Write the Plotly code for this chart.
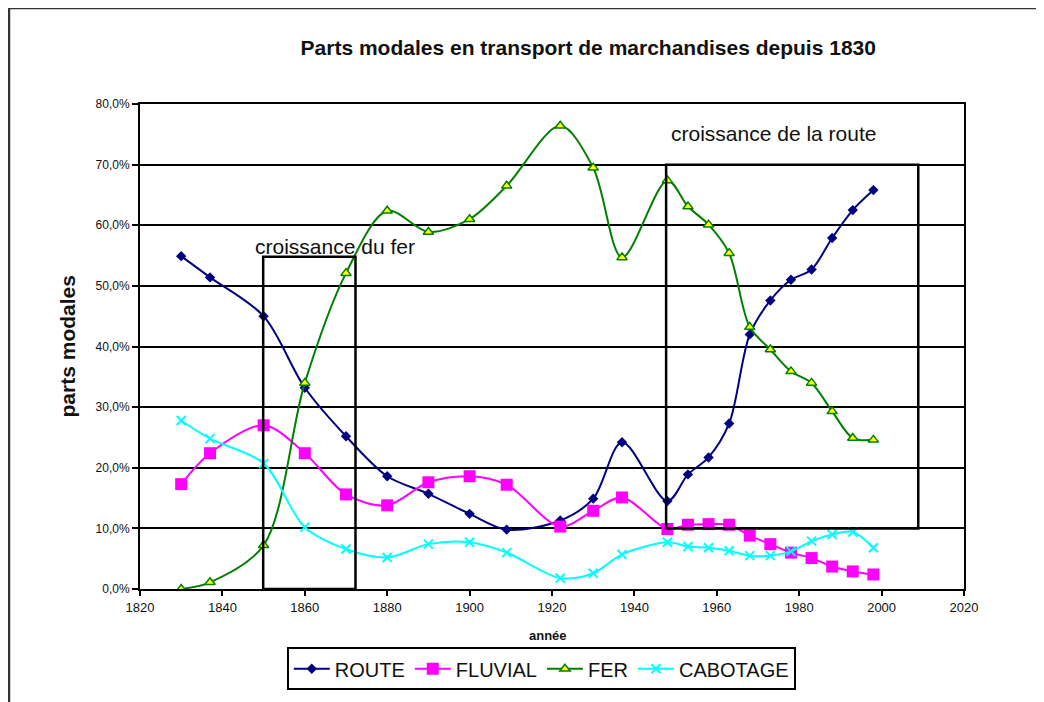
import plotly.graph_objects as go

years = [1830, 1837, 1850, 1860, 1870, 1880, 1890, 1900, 1909, 1922, 1930, 1937,
         1948, 1953, 1958, 1963, 1968, 1973, 1978, 1983, 1988, 1993, 1998]

route = [54.9, 51.4, 45.0, 33.2, 25.2, 18.6, 15.7, 12.4, 9.8, 11.3, 14.9, 24.2,
         14.5, 18.9, 21.7, 27.3, 42.0, 47.6, 51.0, 52.7, 57.9, 62.5, 65.8]
fluvial = [17.3, 22.4, 27.0, 22.4, 15.6, 13.8, 17.6, 18.6, 17.2, 10.3, 12.9, 15.1,
           9.9, 10.6, 10.7, 10.6, 8.8, 7.4, 6.0, 5.1, 3.7, 2.9, 2.4]
fer = [0.0, 1.1, 7.2, 34.0, 52.1, 62.4, 58.9, 61.0, 66.5, 76.4, 69.5, 54.7,
       67.4, 63.1, 60.1, 55.4, 43.2, 39.5, 35.9, 34.0, 29.3, 24.9, 24.6]
cabotage = [27.8, 24.8, 20.7, 10.2, 6.6, 5.2, 7.4, 7.7, 6.0, 1.8, 2.6, 5.7,
            7.7, 7.0, 6.8, 6.3, 5.5, 5.5, 6.2, 7.9, 9.0, 9.4, 6.8]

y_tickvals = [0, 10, 20, 30, 40, 50, 60, 70, 80]
y_ticktext = ["0,0%", "10,0%", "20,0%", "30,0%", "40,0%", "50,0%", "60,0%", "70,0%", "80,0%"]
x_tickvals = [1820, 1840, 1860, 1880, 1900, 1920, 1940, 1960, 1980, 2000, 2020]

title = "Parts modales en transport de marchandises depuis 1830"
ylab = "parts modales"
xlab = "année"

# period boxes: (x0, x1, y0, y1, label)
box_fer = (1849.9, 1872.3, 0, 54.8, "croissance du fer")
box_route = (1947.7, 2008.9, 10, 70, "croissance de la route")

FONT = "Liberation Sans, Arial, sans-serif"

fig = go.Figure()
fig.add_trace(go.Scatter(x=years, y=route, name="ROUTE", mode="lines+markers",
                         line=dict(color="#000080", width=2, shape="spline", smoothing=0.9),
                         marker=dict(symbol="diamond", size=8, color="#000080")))
fig.add_trace(go.Scatter(x=years, y=fluvial, name="FLUVIAL", mode="lines+markers",
                         line=dict(color="#FF00FF", width=2, shape="spline", smoothing=0.9),
                         marker=dict(symbol="square", size=12, color="#FF00FF")))
fig.add_trace(go.Scatter(x=years, y=fer, name="FER", mode="lines+markers",
                         line=dict(color="#008000", width=2, shape="spline", smoothing=0.9),
                         marker=dict(symbol="triangle-up", size=9, color="#FFFF00",
                                     line=dict(color="#008000", width=1.5))))
fig.add_trace(go.Scatter(x=years, y=cabotage, name="CABOTAGE", mode="lines+markers",
                         line=dict(color="#00FFFF", width=2, shape="spline", smoothing=0.9),
                         marker=dict(symbol="x-thin", size=9,
                                     line=dict(color="#00FFFF", width=2))))

shapes = []
for (x0, x1, y0, y1, _) in (box_fer, box_route):
    shapes.append(dict(type="rect", xref="x", yref="y", x0=x0, x1=x1, y0=y0, y1=y1,
                       line=dict(color="black", width=2.5), fillcolor="rgba(0,0,0,0)",
                       layer="above"))
# outer chart frame
shapes.append(dict(type="rect", xref="paper", yref="paper", x0=-0.159, x1=1.12,
                   y0=-0.3, y1=1.198, line=dict(color="#333333", width=2.5),
                   fillcolor="rgba(0,0,0,0)", layer="below"))

annotations = [
    dict(text=box_fer[4], x=1847.4, y=56.5, xref="x", yref="y", xanchor="left",
         yanchor="middle", showarrow=False, font=dict(family=FONT, size=21, color="#111111")),
    dict(text=box_route[4], x=1948.4, y=75.2, xref="x", yref="y", xanchor="left",
         yanchor="middle", showarrow=False, font=dict(family=FONT, size=21, color="#111111")),
    dict(text="<b>" + ylab + "</b>", x=-0.0874, y=0.5, xref="paper", yref="paper",
         xanchor="center", yanchor="middle", textangle=-90, showarrow=False,
         font=dict(family=FONT, size=21, color="#111111")),
    dict(text="<b>" + xlab + "</b>", x=0.495, y=-0.095, xref="paper", yref="paper",
         xanchor="center", yanchor="middle", showarrow=False,
         font=dict(family=FONT, size=13, color="#111111")),
]

# page shows the figure offset by ~8px, so margins compensate
fig.update_layout(
    width=1044, height=702,
    margin=dict(l=132, r=88, t=96, b=121),
    paper_bgcolor="white", plot_bgcolor="white",
    font=dict(family=FONT, color="#111111"),
    title=dict(text="<b>" + title + "</b>", x=0.544, xref="paper", xanchor="center",
               y=1 - 40 / 702, yref="container", yanchor="middle",
               font=dict(family=FONT, size=21, color="#111111")),
    xaxis=dict(range=[1820, 2020], tickvals=x_tickvals, showgrid=False, zeroline=False,
               showline=True, linecolor="black", linewidth=2, mirror=True,
               ticks="outside", ticklen=5, tickcolor="black", tickwidth=2,
               tickfont=dict(family=FONT, size=13, color="#111111")),
    yaxis=dict(range=[0, 80], tickvals=y_tickvals, ticktext=y_ticktext,
               showgrid=True, gridcolor="black", gridwidth=2, zeroline=False,
               showline=True, linecolor="black", linewidth=2, mirror=True,
               ticks="outside", ticklen=6, tickcolor="black", tickwidth=2,
               tickfont=dict(family=FONT, size=12, color="#111111")),
    legend=dict(orientation="h", x=0.487, xanchor="center", y=-0.12, yanchor="top",
                bordercolor="black", borderwidth=2, bgcolor="white",
                font=dict(family=FONT, size=20, color="#111111"),
                itemwidth=36, tracegroupgap=0),
    shapes=shapes,
    annotations=annotations,
    showlegend=True,
)

fig.write_html("out.html")
